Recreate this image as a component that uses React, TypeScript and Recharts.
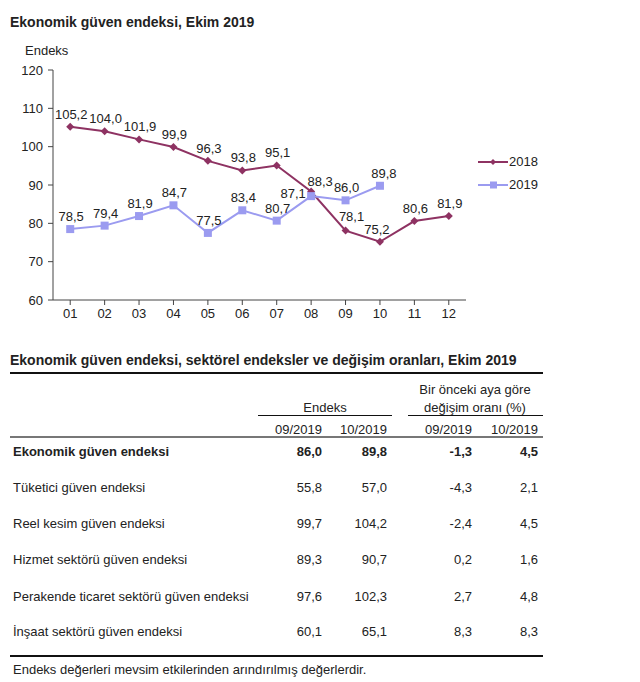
import React from "react";
import { LineChart, Line, XAxis, YAxis, Legend, LabelList } from "recharts";

// chart data
const months = ["01", "02", "03", "04", "05", "06", "07", "08", "09", "10", "11", "12"];
const index2018 = [105.2, 104.0, 101.9, 99.9, 96.3, 93.8, 95.1, 88.3, 78.1, 75.2, 80.6, 81.9];
const index2019 = [78.5, 79.4, 81.9, 84.7, 77.5, 83.4, 80.7, 87.1, 86.0, 89.8, null, null];
const yTicks = [60, 70, 80, 90, 100, 110, 120];

// table data
const rowLabels = [
  "Ekonomik güven endeksi",
  "Tüketici güven endeksi",
  "Reel kesim güven endeksi",
  "Hizmet sektörü güven endeksi",
  "Perakende ticaret sektörü güven endeksi",
  "İnşaat sektörü güven endeksi",
];
const endeksSep = [86.0, 55.8, 99.7, 89.3, 97.6, 60.1];
const endeksOct = [89.8, 57.0, 104.2, 90.7, 102.3, 65.1];
const changeSep = [-1.3, -4.3, -2.4, 0.2, 2.7, 8.3];
const changeOct = [4.5, 2.1, 4.5, 1.6, 4.8, 8.3];
const colHeaders = ["09/2019", "10/2019", "09/2019", "10/2019"];

const chartData = months.map((m, i) => ({
  month: m,
  y2018: index2018[i],
  y2019: index2019[i],
}));

const C2018 = "#8e3262";
const C2019 = "#9b9bf0";
const FONT = "Arial, 'Liberation Sans', sans-serif";
const TEXT = "#222";

const fmt = (v: number) => v.toFixed(1).replace(".", ",");

const Diamond = (props: any) => {
  const { cx, cy } = props;
  if (cx == null || cy == null) return <g key={props.index} />;
  return (
    <path
      key={props.index}
      d={`M${cx},${cy - 4}L${cx + 4},${cy}L${cx},${cy + 4}L${cx - 4},${cy}Z`}
      fill={C2018}
    />
  );
};

const Square = (props: any) => {
  const { cx, cy } = props;
  if (cx == null || cy == null) return <g key={props.index} />;
  return <rect key={props.index} x={cx - 4} y={cy - 4} width={8} height={8} fill={C2019} />;
};

// small nudges for labels that sit off the default spot
const nudge2018: Record<number, [number, number]> = { 7: [9, 2], 8: [6, -2], 9: [-3, 0] };
const nudge2019: Record<number, [number, number]> = { 7: [-18, 10], 9: [4, 0] };

const makeLabel = (nudge: Record<number, [number, number]>) => (props: any) => {
  const { value, index } = props;
  if (value == null) return null;
  const x = props.x ?? props.viewBox?.x;
  const y = props.y ?? props.viewBox?.y;
  const [dx, dy] = nudge[index] || [1, 0];
  return (
    <text x={x + dx} y={y - 8 + dy} textAnchor="middle" fontSize={13} fill={TEXT} fontFamily={FONT}>
      {fmt(value)}
    </text>
  );
};

const LegendContent = () => (
  <div style={{ fontFamily: FONT, fontSize: 13, color: TEXT }}>
    {[
      { name: "2018", color: C2018, square: false },
      { name: "2019", color: C2019, square: true },
    ].map((it) => (
      <div key={it.name} style={{ display: "flex", alignItems: "center", height: 23 }}>
        <svg width={30} height={10}>
          <line x1={0} y1={5} x2={30} y2={5} stroke={it.color} strokeWidth={2} />
          {it.square ? (
            <rect x={12} y={1.5} width={7} height={7} fill={it.color} />
          ) : (
            <path d="M15,2L18,5L15,8L12,5Z" fill={it.color} />
          )}
        </svg>
        <span style={{ marginLeft: 1 }}>{it.name}</span>
      </div>
    ))}
  </div>
);

const Txt = ({
  x,
  y,
  align = "left",
  bold = false,
  size = 13,
  children,
}: {
  x: number;
  y: number;
  align?: "left" | "right" | "center";
  bold?: boolean;
  size?: number;
  children: React.ReactNode;
}) => {
  const base: React.CSSProperties = {
    position: "absolute",
    top: y - 8,
    lineHeight: "16px",
    fontSize: size,
    fontWeight: bold ? "bold" : "normal",
    whiteSpace: "nowrap",
    color: TEXT,
  };
  if (align === "right") return <div style={{ ...base, right: 640 - x, textAlign: "right" }}>{children}</div>;
  if (align === "center")
    return <div style={{ ...base, left: x - 150, width: 300, textAlign: "center" }}>{children}</div>;
  return <div style={{ ...base, left: x }}>{children}</div>;
};

const Rule = ({ x1, x2, y, h, color = "#111" }: { x1: number; x2: number; y: number; h: number; color?: string }) => (
  <div style={{ position: "absolute", left: x1, top: y, width: x2 - x1, height: h, background: color }} />
);

const rowY = [452, 488, 524, 560, 597, 632];
const colRight = [322, 387, 472, 538];

export default function App() {
  return (
    <div style={{ position: "relative", width: 640, height: 682, background: "#fff", fontFamily: FONT }}>
      <style>{`body{margin:0}`}</style>

      <Txt x={10} y={22} bold size={14}>
        Ekonomik güven endeksi, Ekim 2019
      </Txt>
      <Txt x={25} y={51} size={13}>
        Endeks
      </Txt>

      <div style={{ position: "absolute", left: 0, top: 0 }}>
        <LineChart width={640} height={330} data={chartData} margin={{ top: 70, right: 174, left: 0, bottom: 0 }}>
          <XAxis
            dataKey="month"
            scale="band"
            height={30}
            tickSize={5}
            tickMargin={4}
            stroke="#444"
            tick={{ fill: TEXT, fontSize: 13, fontFamily: FONT }}
          />
          <YAxis
            domain={[60, 120]}
            ticks={yTicks}
            width={53}
            tickSize={5}
            tickMargin={5}
            stroke="#444"
            tick={{ fill: TEXT, fontSize: 13, fontFamily: FONT }}
          />
          <Legend
            layout="vertical"
            align="center"
            verticalAlign="middle"
            content={<LegendContent />}
            wrapperStyle={{ position: "absolute", left: 478, top: 150, width: "auto", right: "auto", bottom: "auto", margin: 0 }}
          />
          <Line
            dataKey="y2018"
            name="2018"
            stroke={C2018}
            strokeWidth={2}
            dot={(p: any) => <Diamond {...p} />}
            isAnimationActive={false}
          >
            <LabelList dataKey="y2018" content={makeLabel(nudge2018)} />
          </Line>
          <Line
            dataKey="y2019"
            name="2019"
            stroke={C2019}
            strokeWidth={2}
            dot={(p: any) => <Square {...p} />}
            isAnimationActive={false}
          >
            <LabelList dataKey="y2019" content={makeLabel(nudge2019)} />
          </Line>
        </LineChart>
      </div>

      {/* table */}
      <Txt x={10} y={360} bold size={14}>
        Ekonomik güven endeksi, sektörel endeksler ve değişim oranları, Ekim 2019
      </Txt>
      <Rule x1={10} x2={543} y={372} h={2} />
      <Txt x={475} y={390} align="center">
        Bir önceki aya göre
      </Txt>
      <Txt x={475} y={408} align="center">
        değişim oranı (%)
      </Txt>
      <Txt x={325} y={408} align="center">
        Endeks
      </Txt>
      <Rule x1={258} x2={392} y={415} h={1} />
      <Rule x1={408} x2={543} y={415} h={1} />
      {colHeaders.map((h, i) => (
        <Txt key={i} x={colRight[i]} y={430} align="right">
          {h}
        </Txt>
      ))}
      <Rule x1={10} x2={543} y={436} h={2} color="#777" />
      {rowLabels.map((label, r) => (
        <React.Fragment key={label}>
          <Txt x={13} y={rowY[r]} bold={r === 0}>
            {label}
          </Txt>
          {[endeksSep[r], endeksOct[r], changeSep[r], changeOct[r]].map((v, c) => (
            <Txt key={c} x={colRight[c]} y={rowY[r]} align="right" bold={r === 0}>
              {fmt(v)}
            </Txt>
          ))}
        </React.Fragment>
      ))}
      <Rule x1={10} x2={543} y={655} h={2} />
      <Txt x={13} y={670}>
        Endeks değerleri mevsim etkilerinden arındırılmış değerlerdir.
      </Txt>
    </div>
  );
}
